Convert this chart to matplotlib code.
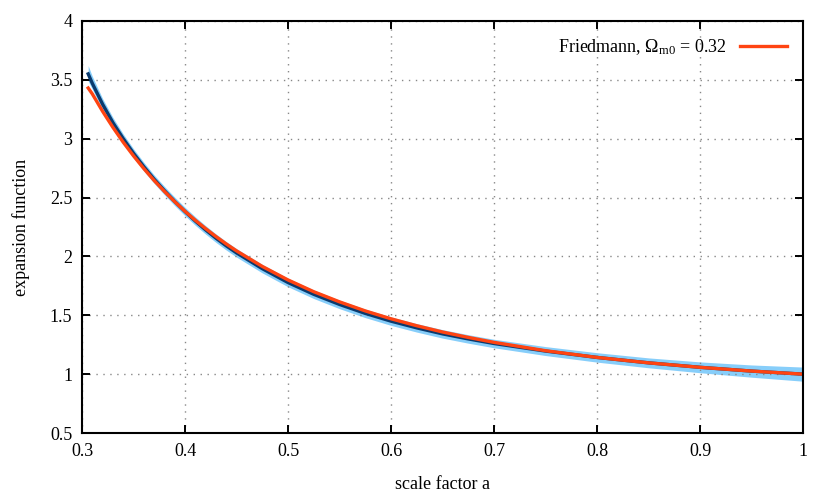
import matplotlib.pyplot as plt
import numpy as np

plt.rcParams['font.family'] = ['Liberation Serif', 'DejaVu Serif']
plt.rcParams['mathtext.fontset'] = 'custom'
plt.rcParams['mathtext.rm'] = 'Liberation Serif'
plt.rcParams['mathtext.it'] = 'Liberation Serif'

# values
a_vals = [0.306, 0.31, 0.32, 0.33, 0.34, 0.35, 0.36, 0.37, 0.38, 0.39,
          0.40, 0.41, 0.42, 0.43, 0.44, 0.45, 0.475, 0.50, 0.525, 0.55,
          0.575, 0.60, 0.625, 0.65, 0.675, 0.70, 0.75, 0.80, 0.85, 0.90,
          0.95, 1.00]
friedmann = [3.43, 3.380, 3.232, 3.096, 2.970, 2.854, 2.746, 2.645, 2.552, 2.465,
             2.383, 2.307, 2.236, 2.169, 2.106, 2.047, 1.915, 1.800, 1.700, 1.614,
             1.537, 1.470, 1.411, 1.358, 1.312, 1.270, 1.199, 1.142, 1.096, 1.058,
             1.026, 1.000]
fit = [3.55, 3.470, 3.292, 3.136, 3.000, 2.876, 2.762, 2.656, 2.559, 2.467,
       2.381, 2.300, 2.225, 2.155, 2.090, 2.030, 1.896, 1.778, 1.678, 1.592,
       1.516, 1.450, 1.393, 1.342, 1.299, 1.260, 1.196, 1.142, 1.096, 1.058,
       1.026, 1.000]
band_lo = [3.49, 3.420, 3.245, 3.093, 2.960, 2.838, 2.725, 2.620, 2.523, 2.431,
           2.345, 2.264, 2.189, 2.119, 2.054, 1.994, 1.860, 1.742, 1.642, 1.556,
           1.480, 1.414, 1.357, 1.306, 1.263, 1.224, 1.158, 1.102, 1.054, 1.012,
           0.974, 0.940]
band_hi = [3.62, 3.530, 3.340, 3.180, 3.040, 2.914, 2.799, 2.692, 2.595, 2.503,
           2.417, 2.336, 2.261, 2.191, 2.126, 2.066, 1.932, 1.814, 1.714, 1.628,
           1.552, 1.486, 1.429, 1.378, 1.335, 1.296, 1.234, 1.182, 1.138, 1.104,
           1.078, 1.060]

fig = plt.figure(figsize=(8.3, 4.98), dpi=100)
ax = fig.add_axes([0.0988, 0.1305, 0.8687, 0.8275])

ax.fill_between(a_vals, band_lo, band_hi, color='#87cefa', lw=0)
ax.plot(a_vals, fit, color='#0a3a6e', lw=2.4)
ax.plot(a_vals, friedmann, color='#ff4412', lw=2.4,
        label=r'Friedmann, $\Omega_{\rm m0}$ = 0.32')

ax.set_xlim(0.3, 1.0)
ax.set_ylim(0.5, 4.0)
ax.set_xticks(np.arange(0.3, 1.01, 0.1))
ax.set_yticks(np.arange(0.5, 4.01, 0.5))
ax.xaxis.set_major_formatter(plt.FormatStrFormatter('%g'))
ax.yaxis.set_major_formatter(plt.FormatStrFormatter('%g'))
ax.tick_params(direction='in', top=True, right=True, length=6, width=1.4,
               labelsize=13, pad=7)
ax.grid(True, color='#888888', linestyle=(0, (1, 4)), lw=1)
for s in ax.spines.values():
    s.set_linewidth(1.5)

ax.set_xlabel('scale factor a', fontsize=13, labelpad=12)
ax.set_ylabel('expansion function', fontsize=13, labelpad=14)

ax.legend(loc='upper right', frameon=False, markerfirst=False, fontsize=13,
          handlelength=2.6, borderaxespad=0.5, handletextpad=0.7)

fig.savefig('out.png', dpi=100)
